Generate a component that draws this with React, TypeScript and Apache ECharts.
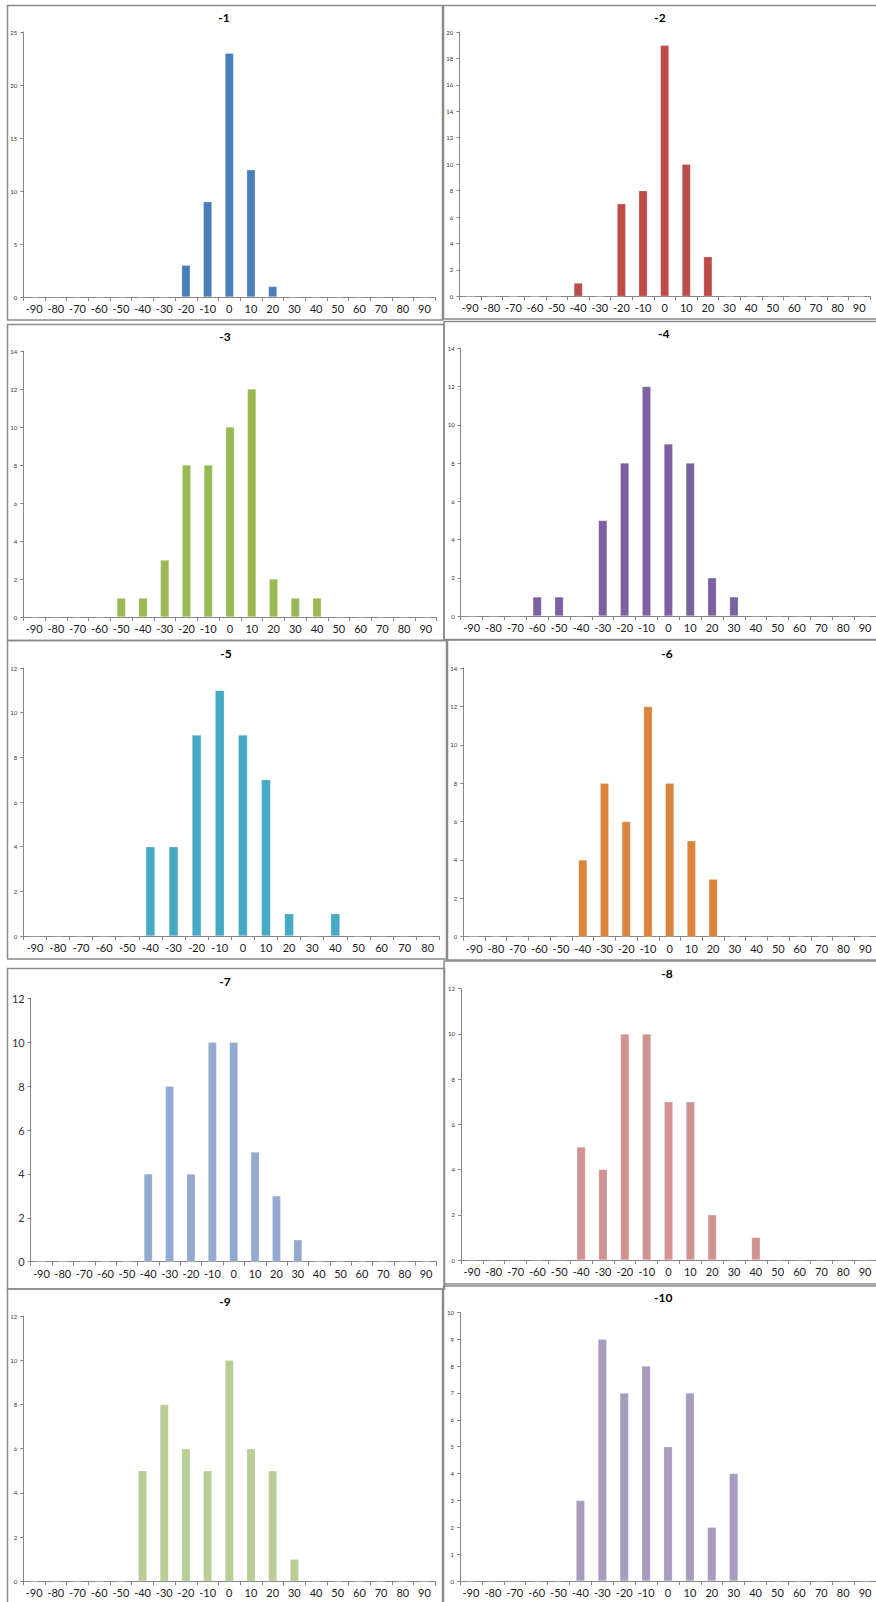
import React, { useEffect, useRef } from "react";
import * as echarts from "echarts";

const categories = [-90, -80, -70, -60, -50, -40, -30, -20, -10, 0, 10, 20, 30, 40, 50, 60, 70, 80, 90].map(String);
const categories5 = [-90, -80, -70, -60, -50, -40, -30, -20, -10, 0, 10, 20, 30, 40, 50, 60, 70, 80].map(String);

const s1 = [0, 0, 0, 0, 0, 0, 0, 3, 9, 23, 12, 1, 0, 0, 0, 0, 0, 0, 0];
const s2 = [0, 0, 0, 0, 0, 1, 0, 7, 8, 19, 10, 3, 0, 0, 0, 0, 0, 0, 0];
const s3 = [0, 0, 0, 0, 1, 1, 3, 8, 8, 10, 12, 2, 1, 1, 0, 0, 0, 0, 0];
const s4 = [0, 0, 0, 1, 1, 0, 5, 8, 12, 9, 8, 2, 1, 0, 0, 0, 0, 0, 0];
const s5 = [0, 0, 0, 0, 0, 4, 4, 9, 11, 9, 7, 1, 0, 1, 0, 0, 0, 0];
const s6 = [0, 0, 0, 0, 0, 4, 8, 6, 12, 8, 5, 3, 0, 0, 0, 0, 0, 0, 0];
const s7 = [0, 0, 0, 0, 0, 4, 8, 4, 10, 10, 5, 3, 1, 0, 0, 0, 0, 0, 0];
const s8 = [0, 0, 0, 0, 0, 5, 4, 10, 10, 7, 7, 2, 0, 1, 0, 0, 0, 0, 0];
const s9 = [0, 0, 0, 0, 0, 5, 8, 6, 5, 10, 6, 5, 1, 0, 0, 0, 0, 0, 0];
const s10 = [0, 0, 0, 0, 0, 3, 9, 7, 8, 5, 7, 2, 4, 0, 0, 0, 0, 0, 0];

const titles = ["-1", "-2", "-3", "-4", "-5", "-6", "-7", "-8", "-9", "-10"];
const yMax = [25, 20, 14, 14, 12, 14, 12, 12, 12, 10];
const yStep = [5, 2, 2, 2, 2, 2, 2, 2, 2, 1];
const colors = ["#4A7EBB", "#BE4B48", "#98B954", "#7D60A0", "#46AAC5", "#DB843D", "#93A9CF", "#D19392", "#B9CD96", "#A99BBD"];

const seriesData = [s1, s2, s3, s4, s5, s6, s7, s8, s9, s10];
const seriesCats = [categories, categories, categories, categories, categories5, categories, categories, categories, categories, categories];

// layout: grid [left, top, width, height], frame [x, y, w, h], title [x, y]
const grids = [
  [23.3, 32, 412, 265],
  [459.3, 32, 410.7, 264.3],
  [23.3, 351, 413.4, 266],
  [460.7, 348.3, 415.5, 267.7],
  [23.3, 668, 416, 268],
  [463.3, 668, 418, 268.7],
  [30.7, 998.3, 406, 263.4],
  [461, 988.7, 418, 271.3],
  [23.3, 1316, 412, 265.3],
  [460, 1312.3, 418, 268.7],
];
const frames = [
  [7.5, 5.5, 435, 314.5],
  [443.5, 5.5, 440, 313.5],
  [7.5, 324.5, 436.5, 316],
  [444, 321.5, 440, 318],
  [7.5, 640.5, 439, 318.5],
  [447.5, 640, 440, 320],
  [7.5, 968.5, 437, 320.5],
  [444, 961, 440, 323],
  [7.5, 1289, 435, 330],
  [443.5, 1286, 440, 330],
];
const titlePos = [
  [224, 17], [660, 17], [225, 336], [663.7, 333.3], [226, 653.3],
  [667, 653], [225, 981], [667, 973.3], [225, 1301], [663.3, 1297.3],
];

export default function App() {
  const ref = useRef<HTMLDivElement>(null);
  useEffect(() => {
    if (!ref.current) return;
    const chart = echarts.init(ref.current, undefined, { renderer: "svg" });
    const axisColor = "#868686";
    const option: any = {
      animation: false,
      backgroundColor: "#ffffff",
      grid: grids.map((g) => ({ left: g[0], top: g[1], width: g[2], height: g[3], containLabel: false })),
      xAxis: grids.map((_, i) => ({
        type: "category",
        gridIndex: i,
        data: seriesCats[i],
        boundaryGap: true,
        axisLine: { show: true, lineStyle: { color: axisColor, width: 1 } },
        axisTick: { show: true, alignWithLabel: false, length: 4, lineStyle: { color: axisColor } },
        axisLabel: { interval: 0, color: "#1a1a1a", fontSize: 11, fontFamily: "Lato, 'Open Sans', sans-serif", margin: 6 },
        splitLine: { show: false },
      })),
      yAxis: grids.map((_, i) => ({
        type: "value",
        gridIndex: i,
        min: 0,
        max: yMax[i],
        interval: yStep[i],
        axisLine: { show: true, lineStyle: { color: axisColor, width: 1 } },
        axisTick: { show: true, length: 3, lineStyle: { color: axisColor } },
        axisLabel: {
          color: "#333",
          fontSize: i === 6 ? 11 : 6,
          fontFamily: "Lato, 'Open Sans', sans-serif",
          margin: i === 6 ? 6 : 6,
        },
        splitLine: { show: false },
      })),
      series: seriesData.map((d, i) => ({
        type: "bar",
        xAxisIndex: i,
        yAxisIndex: i,
        data: d,
        barWidth: "40%",
        itemStyle: { color: colors[i], borderColor: "rgba(255,255,255,0.35)", borderWidth: 0.6 },
      })),
      graphic: [
        ...frames.map((f) => ({
          type: "rect",
          shape: { x: f[0], y: f[1], width: f[2], height: f[3] },
          style: { fill: "none", stroke: "#8a8a8a", lineWidth: 1.5 },
          silent: true,
          z: -1,
        })),
        ...titles.map((t, i) => ({
          type: "text",
          x: titlePos[i][0],
          y: titlePos[i][1],
          style: {
            text: t,
            fill: "#000",
            font: "bold 12px Lato, 'Open Sans', sans-serif",
            textAlign: "center",
            textVerticalAlign: "middle",
          },
          silent: true,
        })),
      ],
    };
    chart.setOption(option);
    return () => chart.dispose();
  }, []);
  return (
    <div
      ref={ref}
      style={{ position: "absolute", left: 0, top: 0, width: 876, height: 1602, background: "#fff" }}
    />
  );
}
